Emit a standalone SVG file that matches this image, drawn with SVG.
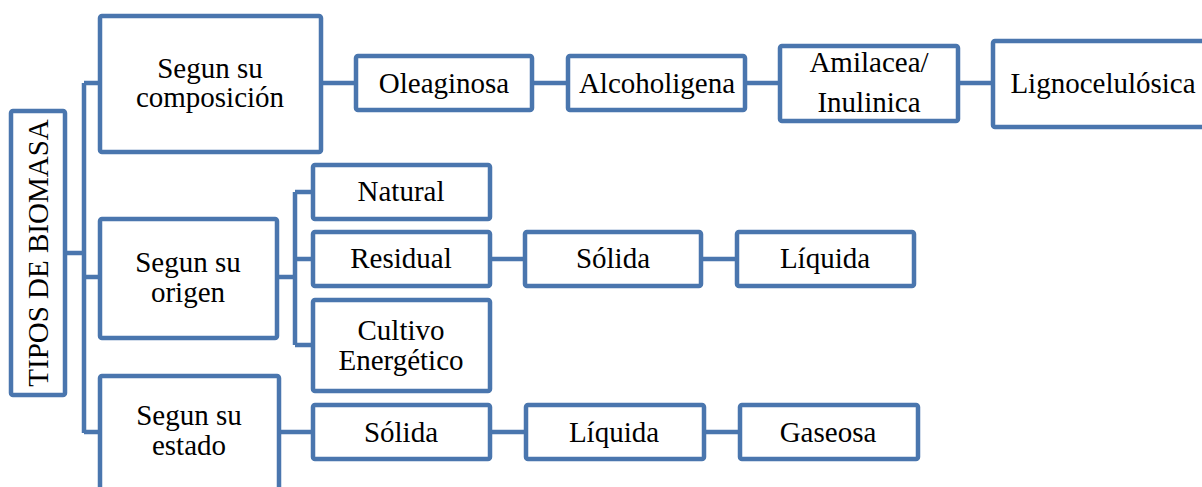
<svg xmlns="http://www.w3.org/2000/svg" width="1202" height="487" viewBox="0 0 1202 487">
  <style>
    .box { fill: #ffffff; stroke: #4a76ae; stroke-width: 4.5; }
    .wire { fill: none; stroke: #4a76ae; stroke-width: 4.5; stroke-linejoin: round; }
    text { font-family: "Liberation Serif", "Times New Roman", serif; font-size: 29px; fill: #000000; text-anchor: middle; }
  </style>
  <rect width="1202" height="487" fill="#ffffff"/>

  <!-- connectors -->
  <g id="connectors" class="wire">
    <path d="M67 253 H84 M84 83 V433 M84 83 H100 M84 277 H100 M84 432 H100"/>
    <path d="M323 83 H356 M534 83 H568 M747 83 H780 M960 83 H993"/>
    <path d="M279 277 H295 M295 192 V345 M295 192 H313 M295 259 H313 M295 345 H313"/>
    <path d="M492 259 H525 M703 259 H737"/>
    <path d="M281 432 H313 M492 432 H526 M706 432 H740"/>
  </g>

  <!-- root -->
  <g id="tipos">
    <rect class="box" x="11" y="111" width="54" height="284" rx="2"/>
    <text transform="translate(48 253) rotate(-90)">TIPOS DE BIOMASA</text>
  </g>

  <!-- by composition -->
  <g id="composicion">
    <rect class="box" x="100" y="16" width="221" height="136" rx="2"/>
    <text x="210" y="78">Segun su</text>
    <text x="210" y="107">composición</text>
  </g>
  <g id="oleaginosa">
    <rect class="box" x="356" y="56" width="176" height="54" rx="2"/>
    <text x="444" y="93">Oleaginosa</text>
  </g>
  <g id="alcoholigena">
    <rect class="box" x="568" y="56" width="177" height="54" rx="2"/>
    <text x="657" y="93">Alcoholigena</text>
  </g>
  <g id="amilacea">
    <rect class="box" x="780" y="46" width="178" height="75" rx="2"/>
    <text x="869" y="72">Amilacea/</text>
    <text x="869" y="112">Inulinica</text>
  </g>
  <g id="lignocelulosica">
    <rect class="box" x="993" y="41" width="230" height="86" rx="2"/>
    <text x="1103" y="93">Lignocelulósica</text>
  </g>

  <!-- by origin -->
  <g id="origen">
    <rect class="box" x="100" y="219" width="177" height="119" rx="2"/>
    <text x="188" y="272">Segun su</text>
    <text x="188" y="302">origen</text>
  </g>
  <g id="natural">
    <rect class="box" x="313" y="165" width="177" height="54" rx="2"/>
    <text x="401" y="201">Natural</text>
  </g>
  <g id="residual">
    <rect class="box" x="313" y="232" width="177" height="54" rx="2"/>
    <text x="401" y="268">Residual</text>
  </g>
  <g id="cultivo">
    <rect class="box" x="313" y="300" width="177" height="91" rx="2"/>
    <text x="401" y="340">Cultivo</text>
    <text x="401" y="370">Energético</text>
  </g>
  <g id="residual-solida">
    <rect class="box" x="525" y="232" width="176" height="54" rx="2"/>
    <text x="613" y="268">Sólida</text>
  </g>
  <g id="residual-liquida">
    <rect class="box" x="737" y="232" width="177" height="54" rx="2"/>
    <text x="825" y="268">Líquida</text>
  </g>

  <!-- by state -->
  <g id="estado">
    <rect class="box" x="100" y="376" width="179" height="130" rx="2"/>
    <text x="189" y="425">Segun su</text>
    <text x="189" y="455">estado</text>
  </g>
  <g id="estado-solida">
    <rect class="box" x="313" y="405" width="177" height="54" rx="2"/>
    <text x="401" y="442">Sólida</text>
  </g>
  <g id="estado-liquida">
    <rect class="box" x="526" y="405" width="178" height="54" rx="2"/>
    <text x="614" y="442">Líquida</text>
  </g>
  <g id="estado-gaseosa">
    <rect class="box" x="740" y="405" width="178" height="54" rx="2"/>
    <text x="828" y="442">Gaseosa</text>
  </g>
</svg>
